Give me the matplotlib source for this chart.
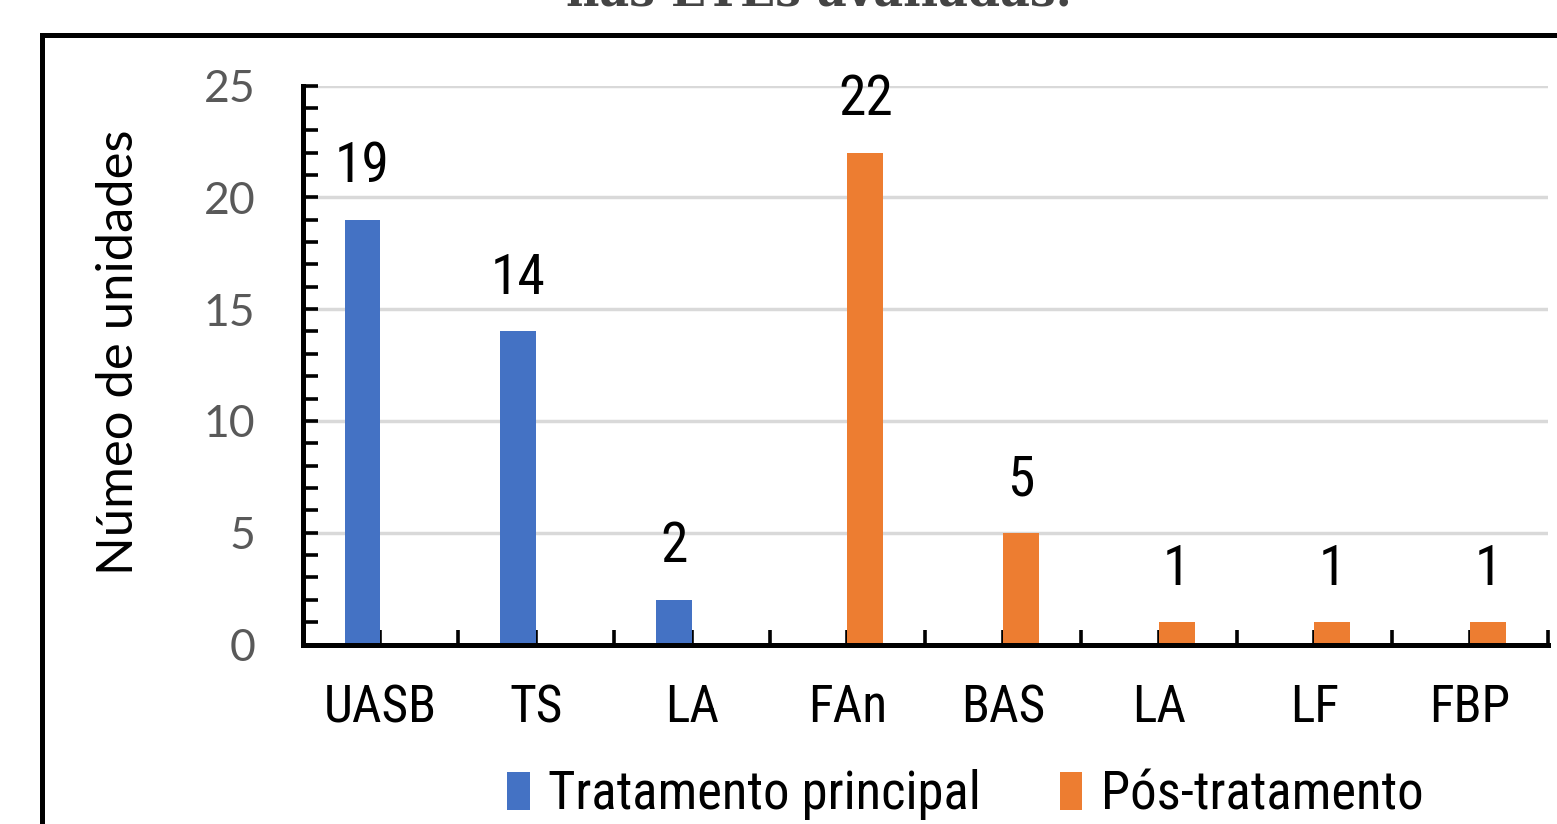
import matplotlib.pyplot as plt
import matplotlib.font_manager as fm
from matplotlib.patches import Rectangle
from matplotlib.ticker import MultipleLocator

categorias = ["UASB", "TS", "LA", "FAn", "BAS", "LA", "LF", "FBP"]
tratamento_principal = [19, 14, 2, 0, 0, 0, 0, 0]
pos_tratamento = [0, 0, 0, 22, 5, 1, 1, 1]

azul = "#4472C4"
laranja = "#ED7D31"

# look for a condensed sans (Arial Narrow look-alike)
narrow_file = None
ordem = ["Liberation Sans Narrow", "Arial Narrow", "Roboto Condensed",
         "Open Sans Condensed", "DejaVu Sans Condensed", "DejaVu Sans"]
cands = []
for f in fm.fontManager.ttflist:
    cond = ("Narrow" in f.name or "Condensed" in f.name
            or str(f.stretch) in ("condensed", "semi-condensed", "extra-condensed"))
    if cond and f.style == "normal" and f.weight in (400, "normal", "regular"):
        cands.append(f)
cands.sort(key=lambda f: ordem.index(f.name) if f.name in ordem else 99)
if cands:
    narrow_file = cands[0].fname


def fp(size):
    if narrow_file:
        return fm.FontProperties(fname=narrow_file, size=size)
    return fm.FontProperties(family="Liberation Sans", size=size * 0.85)


fig = plt.figure(figsize=(15.57, 8.24), dpi=100)
ax = fig.add_axes([302.5 / 1557, (824 - 644.5) / 824,
                   (1548 - 302.5) / 1557, (644.5 - 85.5) / 824])

x = list(range(len(categorias)))
w = 0.23
b1 = ax.bar([i - w / 2 for i in x], tratamento_principal, width=w, color=azul,
            label="Tratamento principal", zorder=3)
b2 = ax.bar([i + w / 2 for i in x], pos_tratamento, width=w, color=laranja,
            label="Pós-tratamento", zorder=3)

for cont, vals in ((b1, tratamento_principal), (b2, pos_tratamento)):
    ax.bar_label(cont, labels=[str(v) if v else "" for v in vals], padding=19,
                 fontproperties=fp(40), color="black")

ax.set_xlim(-0.5, len(categorias) - 0.5)
ax.set_ylim(0, 25)
ax.set_xticks(x)
ax.set_xticklabels(categorias, fontproperties=fp(37))
ax.xaxis.set_minor_locator(MultipleLocator(0.5))
ax.yaxis.set_major_locator(MultipleLocator(5))
ax.yaxis.set_minor_locator(MultipleLocator(1))
ax.tick_params(axis="y", which="both", direction="in", length=11, width=2.6,
               labelsize=32, labelcolor="#595959", pad=34)
for lab in ax.get_yticklabels():
    lab.set_family(["Lato", "DejaVu Sans"])
ax.tick_params(axis="x", which="both", direction="in", length=11, width=2.6,
               pad=28)
ax.grid(axis="y", color="#D9D9D9", linewidth=2.5, zorder=0)

for s in ("top", "right"):
    ax.spines[s].set_visible(False)
for s in ("left", "bottom"):
    ax.spines[s].set_linewidth(3.6)
    ax.spines[s].set_zorder(4)

ax.set_ylabel("Númeo de unidades", family=["Lato", "DejaVu Sans"], fontsize=36.5,
              labelpad=44)
ax.yaxis.label.set_y(0.523)

fig.legend(handles=[b1, b2], loc="center", bbox_to_anchor=(0.62, 1 - 795 / 824),
           ncol=2, frameon=False, prop=fp(38),
           handlelength=0.42, handleheight=0.75, handletextpad=0.35, columnspacing=1.5)

fig.text(0.526, 1 - 6 / 824, "nas ETEs avaliadas.", ha="center", va="baseline",
         family="DejaVu Serif", fontsize=33, fontweight="bold", color="#444444")

fig.patches.append(Rectangle((41.5 / 1557, -0.1), 1.2, 1.1 - 35.5 / 824,
                             transform=fig.transFigure, fill=False,
                             edgecolor="black", linewidth=3.6))

fig.savefig("out.png", dpi=100)
